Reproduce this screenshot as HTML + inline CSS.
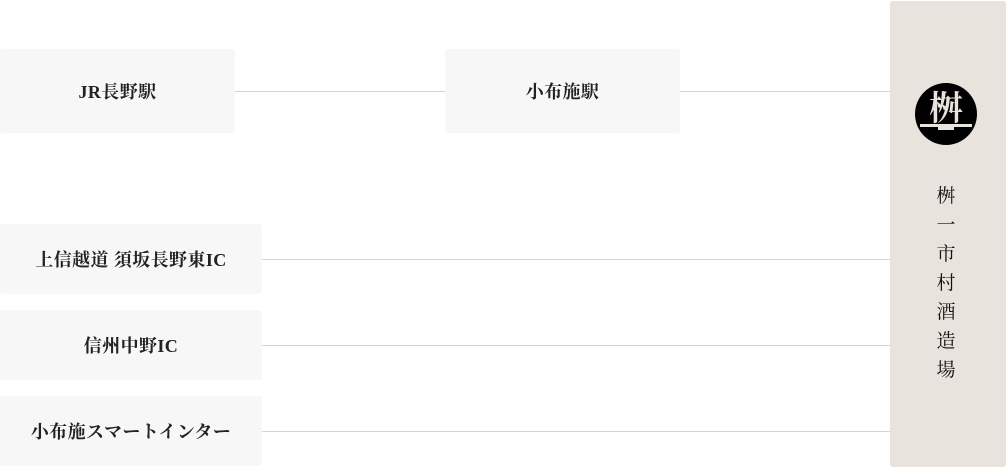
<!DOCTYPE html>
<html><head><meta charset="utf-8"><style>
body{margin:0;width:1006px;height:467px;background:#fff;position:relative;overflow:hidden;font-family:"Liberation Serif","Noto Serif CJK SC",serif;}
.b{position:absolute;background:#f7f7f7;border-radius:3px;display:flex;align-items:center;justify-content:center;font-size:18px;letter-spacing:0.4px;font-weight:bold;color:#222;}
.l{position:absolute;height:1px;background:#d4d4d4;}
.p{position:absolute;left:890px;top:1px;width:116px;height:466px;background:#e8e3dc;border-radius:3px;}
.v{position:absolute;left:926px;top:182px;width:40px;text-align:center;font-size:19px;line-height:29px;color:#111;}
</style></head><body>
<div class="l" style="left:235px;top:91px;width:210px"></div>
<div class="l" style="left:680px;top:91px;width:210px"></div>
<div class="l" style="left:262px;top:259px;width:628px"></div>
<div class="l" style="left:262px;top:345px;width:628px"></div>
<div class="l" style="left:262px;top:431px;width:628px"></div>
<div class="b" style="left:0;top:49px;width:235px;height:84px">JR長野駅</div>
<div class="b" style="left:445px;top:49px;width:235px;height:84px">小布施駅</div>
<div class="b" style="left:0;top:224px;width:262px;height:70px">上信越道 須坂長野東IC</div>
<div class="b" style="left:0;top:310px;width:262px;height:70px">信州中野IC</div>
<div class="b" style="left:0;top:396px;width:262px;height:70px">小布施スマートインター</div>
<div class="p"></div>
<svg style="position:absolute;left:914px;top:82px" width="64" height="64" viewBox="0 0 64 64">
<circle cx="32" cy="32" r="31" fill="#000"/>
<rect x="6" y="42" width="52" height="3" fill="#e8e3dc"/>
<rect x="24" y="45" width="16" height="3" fill="#e8e3dc"/>
<text x="32" y="38" text-anchor="middle" font-size="34" font-weight="bold" fill="#e8e3dc" font-family="Noto Serif CJK SC,serif">桝</text>
</svg>
<div class="v">桝<br>一<br>市<br>村<br>酒<br>造<br>場</div>
</body></html>
